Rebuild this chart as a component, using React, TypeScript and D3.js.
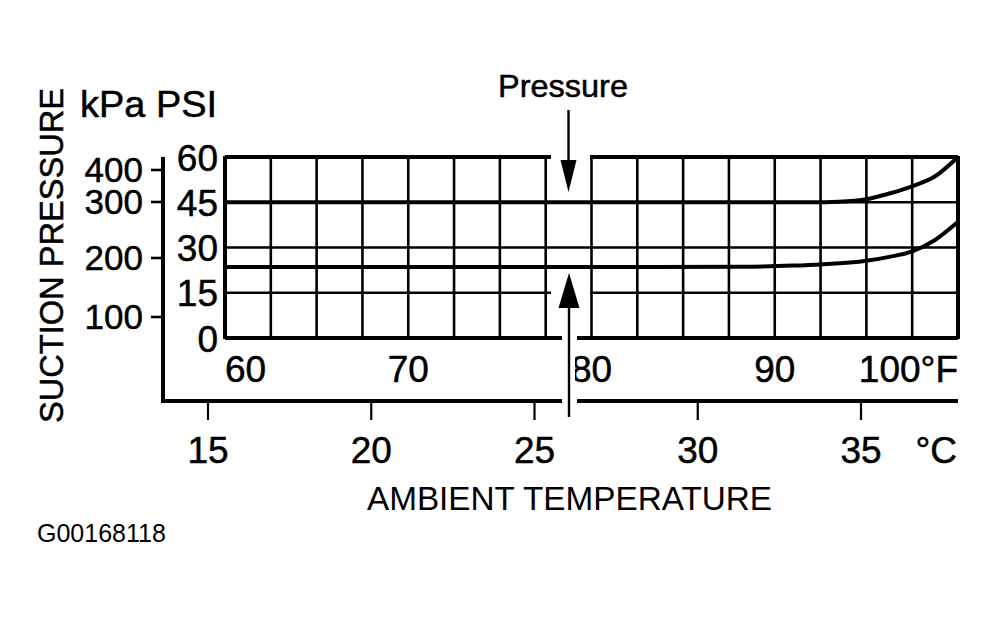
import React from "react";
import * as d3 from "d3";

// ---- data ----
const fahrenheitGrid = [60, 62.5, 65, 67.5, 70, 72.5, 75, 77.5, 80, 82.5, 85, 87.5, 90, 92.5, 95, 97.5, 100];
const fahrenheitLabels = ["60", "70", "80", "90", "100°F"];
const fahrenheitTicks = [60, 70, 80, 90, 100];
const celsiusTicks = [15, 20, 25, 30, 35];
const psiTicks = [0, 15, 30, 45, 60];
const kpaTicks = [100, 200, 300, 400];

const upperTempF = [60, 80, 92, 93.5, 95, 96.25, 97.5, 98.75, 100];
const upperPsi = [45, 45, 45, 45.2, 46, 47.9, 50.3, 53.6, 60];
const lowerTempF = [60, 80, 88, 91, 92.5, 95, 96.25, 97.5, 98.75, 100];
const lowerPsi = [23.5, 23.5, 23.6, 24, 24.4, 25.6, 26.9, 28.7, 32.5, 38.5];

const FONT = "'Liberation Sans', Arial, Helvetica, sans-serif";

export default function App() {
  const W = 998, H = 617;
  const xF = d3.scaleLinear().domain([60, 100]).range([225, 958]);
  const xC = d3.scaleLinear().domain([15, 35]).range([208, 861]);
  const y = d3.scaleLinear().domain([0, 60]).range([338, 157]);
  const yKpa = d3.scaleLinear().domain([100, 200, 300, 400]).range([317, 258, 202, 170]);

  const line = d3
    .line<[number, number]>()
    .x((d) => xF(d[0]))
    .y((d) => y(d[1]))
    .curve(d3.curveMonotoneX);

  const upper = line(upperTempF.map((t, i) => [t, upperPsi[i]] as [number, number])) || "";
  const lower = line(lowerTempF.map((t, i) => [t, lowerPsi[i]] as [number, number])) || "";

  const x0 = xF(60), x1 = xF(100);
  const gapA = [551, 590];
  const gapB = [562, 577];
  const arrowX = 568.5;

  const hSegments = (p: number): [number, number][] => {
    if (p === 15 || p === 60) return [[x0, gapA[0]], [gapA[1], x1]];
    if (p === 0) return [[x0, gapB[0]], [gapB[1], x1]];
    return [[x0, x1]];
  };

  const axisLeftX = 163;
  const axisBottomY = 401;
  const ts = { stroke: "#000", strokeWidth: 0.5 };

  return (
    <svg
      width={W}
      height={H}
      viewBox={`0 0 ${W} ${H}`}
      style={{ position: "absolute", left: 0, top: 0, background: "#fff" }}
      fontFamily={FONT}
    >
      <rect width={W} height={H} fill="#fff" />
      {fahrenheitGrid.map((f, i) => (
        <line
          key={"vg" + i}
          x1={xF(f)}
          x2={xF(f)}
          y1={y(60) - 1}
          y2={y(0) + 1}
          stroke="#000"
          strokeWidth={i === 0 || i === fahrenheitGrid.length - 1 ? 4 : 2.6}
        />
      ))}
      {psiTicks.map((p) =>
        hSegments(p).map((s, j) => (
          <line
            key={"hg" + p + "-" + j}
            x1={s[0]}
            x2={s[1]}
            y1={y(p)}
            y2={y(p)}
            stroke="#000"
            strokeWidth={p === 0 || p === 60 ? 4 : 2.6}
          />
        ))
      )}
      <path d={upper} fill="none" stroke="#000" strokeWidth={4} />
      <path d={lower} fill="none" stroke="#000" strokeWidth={4} />

      <line x1={axisLeftX} x2={axisLeftX} y1={y(60)} y2={axisBottomY + 2} stroke="#000" strokeWidth={4} />
      {kpaTicks.map((k) => (
        <g key={"kp" + k}>
          <line x1={151} x2={axisLeftX} y1={yKpa(k)} y2={yKpa(k)} stroke="#000" strokeWidth={2.6} />
          <text x={143} y={yKpa(k) + 11.5} textAnchor="end" fontSize={35} {...ts}>
            {k}
          </text>
        </g>
      ))}
      {psiTicks.map((p) => (
        <text key={"psi" + p} x={218} y={y(p) + 13.5} textAnchor="end" fontSize={37} {...ts}>
          {p}
        </text>
      ))}

      <line x1={axisLeftX - 2} x2={gapB[0]} y1={axisBottomY} y2={axisBottomY} stroke="#000" strokeWidth={4} />
      <line x1={gapB[1]} x2={x1} y1={axisBottomY} y2={axisBottomY} stroke="#000" strokeWidth={4} />
      {celsiusTicks.map((c) => (
        <g key={"c" + c}>
          <line x1={xC(c)} x2={xC(c)} y1={axisBottomY} y2={420} stroke="#000" strokeWidth={2.2} />
          <text x={xC(c)} y={463} textAnchor="middle" fontSize={37} {...ts}>
            {c}
          </text>
        </g>
      ))}
      <text x={957} y={463} textAnchor="end" fontSize={37} {...ts}>
        °C
      </text>

      {fahrenheitTicks.map((f, i) => (
        <text
          key={"f" + f}
          x={xF(f)}
          y={381.5}
          fontSize={37}
          textAnchor={i === 0 ? "start" : i === fahrenheitTicks.length - 1 ? "end" : "middle"}
          {...ts}
        >
          {fahrenheitLabels[i]}
        </text>
      ))}

      <line x1={arrowX} x2={arrowX} y1={110} y2={165} stroke="#000" strokeWidth={2.4} />
      <path d={`M${arrowX - 8},160 L${arrowX + 8},160 L${arrowX},192 Z`} fill="#000" />
      <line x1={570} x2={570} y1={345} y2={396} stroke="#fff" strokeWidth={10} />
      <line x1={arrowX + 0.5} x2={arrowX + 0.5} y1={300} y2={417} stroke="#000" strokeWidth={2.4} />
      <path d={`M${arrowX - 10},308 L${arrowX + 11},308 L${arrowX + 0.5},273 Z`} fill="#000" />

      <text x={563} y={97} textAnchor="middle" fontSize={32} textLength={130} lengthAdjust="spacingAndGlyphs" {...ts}>
        Pressure
      </text>
      <text x={80} y={117} fontSize={36} textLength={137} lengthAdjust="spacingAndGlyphs" {...ts}>
        kPa PSI
      </text>
      <text
        transform="translate(63,255.5) rotate(-90)"
        textAnchor="middle"
        fontSize={34}
        textLength={335}
        lengthAdjust="spacingAndGlyphs"
        {...ts}
      >
        SUCTION PRESSURE
      </text>
      <text x={367} y={510} fontSize={33} textLength={405} lengthAdjust="spacingAndGlyphs">
        AMBIENT TEMPERATURE
      </text>
      <text x={37} y={542} fontSize={25}>
        G00168118
      </text>
    </svg>
  );
}
